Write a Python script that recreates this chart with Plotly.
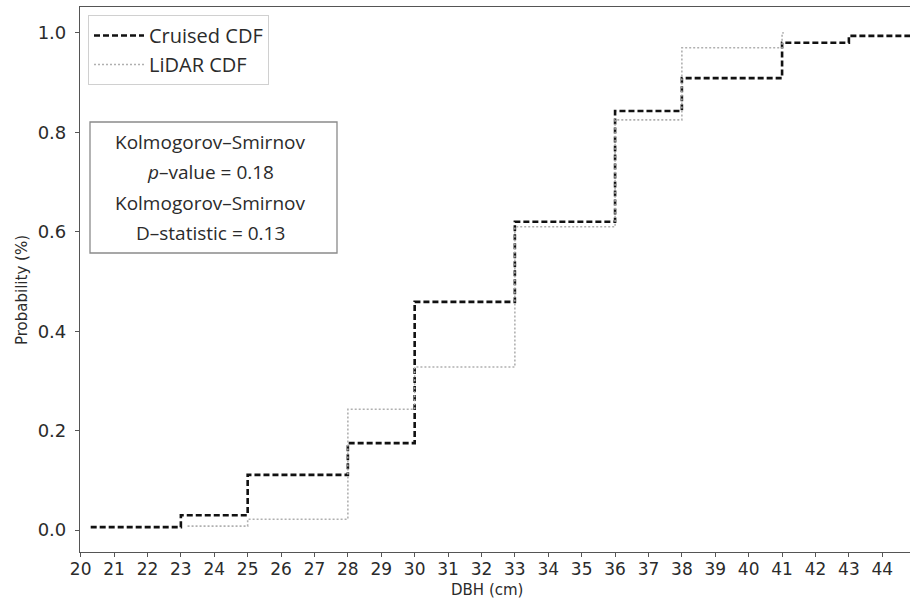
import plotly.graph_objects as go

# ---- data ----
cruised_x = [20.3, 23, 25, 28, 30, 33, 36, 38, 41, 43, 45]
cruised_y = [0.006, 0.030, 0.111, 0.175, 0.459, 0.620, 0.843, 0.909, 0.980, 0.994, 0.994]

lidar_x = [23.2, 25, 28, 30, 33, 36, 38, 41, 41.05]
lidar_y = [0.008, 0.022, 0.243, 0.328, 0.610, 0.825, 0.970, 1.0, 1.0]

x_ticks = list(range(20, 45))
y_ticks = [0.0, 0.2, 0.4, 0.6, 0.8, 1.0]

ks_lines = ["Kolmogorov–Smirnov", "<i>p</i>–value = 0.18",
            "Kolmogorov–Smirnov", "D–statistic = 0.13"]

TXT = "#2b2b2b"
AX = "#555555"

fig = go.Figure()
fig.add_trace(go.Scatter(x=cruised_x, y=cruised_y, mode="lines", name="Cruised CDF",
                         line=dict(color="#111111", width=2.6, dash="6px,3px", shape="hv")))
fig.add_trace(go.Scatter(x=lidar_x, y=lidar_y, mode="lines", name="LiDAR CDF",
                         line=dict(color="#b0b0b0", width=1.6, dash="2px,2px", shape="hv")))

W, H = 910, 603
L, R, T, B = 80, 0, 7, 51
pw, ph = W - L - R, H - T - B

def px(xp):
    return (xp - L) / pw

def py(yp):
    return (H - B - yp) / ph

fig.update_layout(
    width=W, height=H,
    margin=dict(l=L, r=R, t=T, b=B),
    paper_bgcolor="white", plot_bgcolor="white",
    showlegend=True,
    legend=dict(x=px(88), y=py(15), xanchor="left", yanchor="top",
                bgcolor="white", bordercolor="#d0d0d0", borderwidth=1,
                itemwidth=50,
                font=dict(family="Open Sans", size=20, color=TXT)),
    xaxis=dict(range=[19.98, 44.83], tickmode="array", tickvals=x_ticks,
               ticktext=[str(v) for v in x_ticks],
               showgrid=False, zeroline=False, showline=True, linecolor=AX, linewidth=1.2,
               mirror=True, ticks="outside", ticklen=4, tickcolor=AX,
               ticklabelstandoff=-3,
               tickfont=dict(family="DejaVu Sans", size=17, color=TXT)),
    yaxis=dict(range=[-0.044, 1.052], tickmode="array", tickvals=y_ticks,
               ticktext=[f"{v:.1f}" for v in y_ticks],
               showgrid=False, zeroline=False, showline=True, linecolor=AX, linewidth=1.2,
               ticks="outside", ticklen=4, tickcolor=AX,
               ticklabelstandoff=5,
               tickfont=dict(family="DejaVu Sans", size=18, color=TXT)),
)

# axis titles
fig.add_annotation(text="DBH (cm)", xref="paper", yref="paper", x=px(487), y=py(590),
                   xanchor="center", yanchor="middle",
                   showarrow=False, font=dict(family="DejaVu Sans", size=15, color=TXT))
fig.add_annotation(text="Probability (%)", xref="paper", yref="paper", x=px(22), y=py(290),
                   xanchor="center", yanchor="middle",
                   textangle=-90, showarrow=False,
                   font=dict(family="DejaVu Sans", size=15, color=TXT))

# KS statistics box
fig.add_shape(type="rect", xref="paper", yref="paper",
              x0=px(90), x1=px(337), y0=py(253), y1=py(122),
              line=dict(color="#8a8a8a", width=1.3), fillcolor="white", layer="above")
line_y = [142, 172, 203, 233]
for txt, yy in zip(ks_lines, line_y):
    fig.add_annotation(text=txt, xref="paper", yref="paper", x=px(210), y=py(yy),
                       showarrow=False, xanchor="center", yanchor="middle",
                       font=dict(family="Open Sans", size=19, color=TXT))

fig.write_html("out.html")
